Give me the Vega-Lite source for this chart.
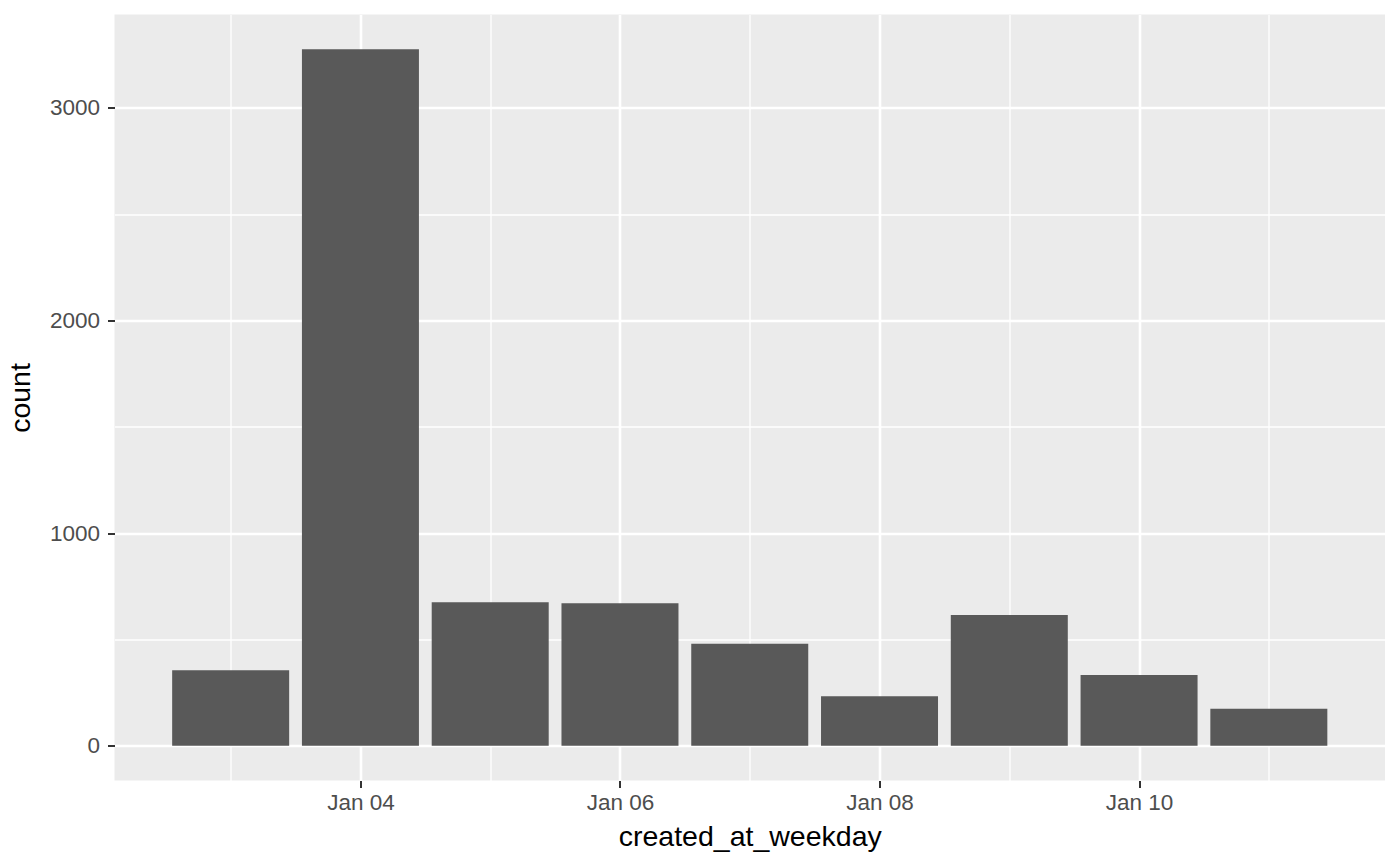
{
  "$schema": "https://vega.github.io/schema/vega-lite/v6.json",
  "autosize": "none",
  "width": 1270.5,
  "height": 766,
  "padding": {"left": 114.5, "top": 14.5, "right": 15, "bottom": 85},
  "background": "white",
  "data": {
    "values": [
      {"created_at_weekday": "2021-01-03", "count": 355},
      {"created_at_weekday": "2021-01-04", "count": 3275},
      {"created_at_weekday": "2021-01-05", "count": 675},
      {"created_at_weekday": "2021-01-06", "count": 670},
      {"created_at_weekday": "2021-01-07", "count": 479},
      {"created_at_weekday": "2021-01-08", "count": 233},
      {"created_at_weekday": "2021-01-09", "count": 615},
      {"created_at_weekday": "2021-01-10", "count": 332},
      {"created_at_weekday": "2021-01-11", "count": 174}
    ]
  },
  "mark": {"type": "bar", "width": 117, "color": "#595959"},
  "encoding": {
    "x": {
      "field": "created_at_weekday",
      "type": "temporal",
      "title": "created_at_weekday",
      "scale": {
        "type": "utc",
        "nice": false,
        "padding": 0,
        "domain": [
          {"year": 2021, "month": 1, "date": 2, "hours": 2, "minutes": 31, "utc": true},
          {"year": 2021, "month": 1, "date": 11, "hours": 21, "minutes": 29, "utc": true}
        ]
      },
      "axis": {
        "values": [
          {"year": 2021, "month": 1, "date": 3, "utc": true},
          {"year": 2021, "month": 1, "date": 4, "utc": true},
          {"year": 2021, "month": 1, "date": 5, "utc": true},
          {"year": 2021, "month": 1, "date": 6, "utc": true},
          {"year": 2021, "month": 1, "date": 7, "utc": true},
          {"year": 2021, "month": 1, "date": 8, "utc": true},
          {"year": 2021, "month": 1, "date": 9, "utc": true},
          {"year": 2021, "month": 1, "date": 10, "utc": true},
          {"year": 2021, "month": 1, "date": 11, "utc": true}
        ],
        "labelExpr": "utcdate(datum.value) % 2 === 0 ? utcFormat(datum.value, '%b %d') : ''",
        "gridWidth": {"condition": {"test": "utcdate(datum.value) % 2 === 0", "value": 2.6}, "value": 1.3},
        "tickOpacity": {"condition": {"test": "utcdate(datum.value) % 2 === 0", "value": 1}, "value": 0},
        "labelPadding": 4,
        "titlePadding": 8
      }
    },
    "y": {
      "field": "count",
      "type": "quantitative",
      "title": "count",
      "scale": {"domain": [-163.75, 3438.75], "nice": false, "zero": false},
      "axis": {
        "values": [0, 500, 1000, 1500, 2000, 2500, 3000],
        "labelExpr": "datum.value % 1000 === 0 ? datum.label : ''",
        "format": "d",
        "gridWidth": {"condition": {"test": "datum.value % 1000 === 0", "value": 2.6}, "value": 1.3},
        "tickOpacity": {"condition": {"test": "datum.value % 1000 === 0", "value": 1}, "value": 0},
        "labelPadding": 8,
        "titlePadding": 14
      }
    },
    "y2": {"datum": 0}
  },
  "config": {
    "view": {"fill": "#EBEBEB", "stroke": null},
    "axis": {
      "domain": false,
      "grid": true,
      "gridColor": "#FFFFFF",
      "gridOpacity": 1,
      "tickColor": "#333333",
      "tickSize": 7,
      "tickWidth": 2,
      "labelFont": "Liberation Sans",
      "labelFontSize": 22.5,
      "labelColor": "#4D4D4D",
      "labelOverlap": false,
      "labelFlush": false,
      "titleFont": "Liberation Sans",
      "titleFontSize": 28.5,
      "titleFontWeight": "normal",
      "titleColor": "#000000"
    }
  }
}
